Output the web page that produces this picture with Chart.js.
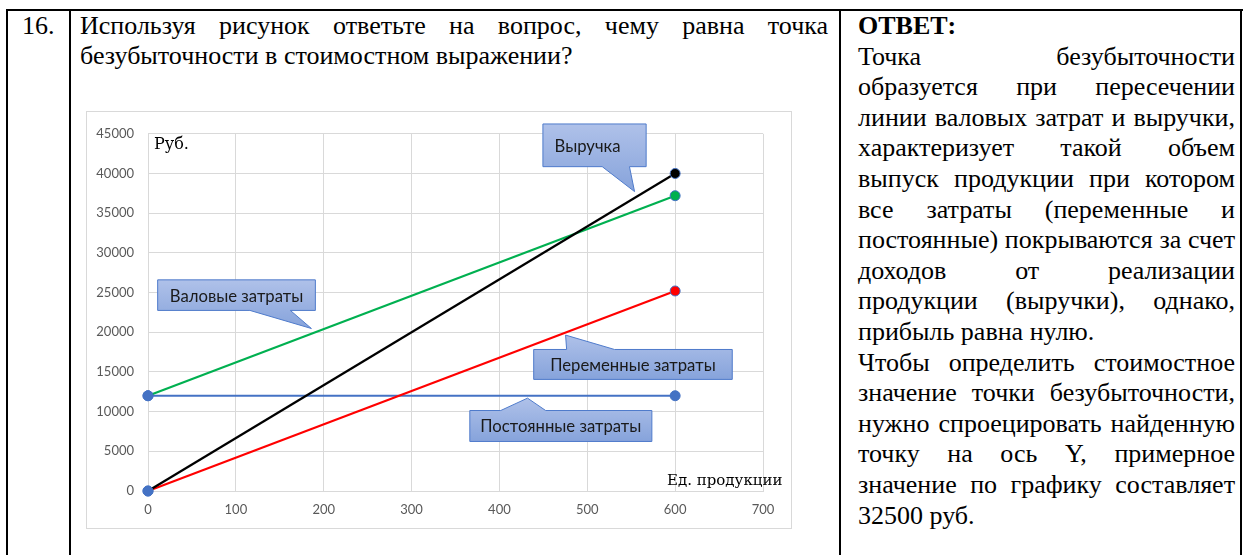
<!DOCTYPE html>
<html lang="ru">
<head>
<meta charset="utf-8">
<script src="https://cdn.jsdelivr.net/npm/chart.js@4.4.0/dist/chart.umd.min.js"></script>
<style>
  html, body { margin: 0; padding: 0; background: #fff; }
  body { width: 1243px; height: 555px; position: relative; overflow: hidden; }
  .ln { position: absolute; background: #000; }
  .serif { font-family: "Liberation Serif", "Times New Roman", serif; color: #000; font-size: 26px; }
  #num { position: absolute; left: 22px; top: 11px; line-height: 30px; }
  #q { position: absolute; left: 80px; top: 11px; width: 748px; line-height: 30px; }
  #ans { position: absolute; left: 858px; top: 11px; width: 377px; line-height: 30.6px; }
  .j { white-space: nowrap; text-align: justify; text-align-last: justify; }
  .e { white-space: nowrap; text-align: left; }
  #frame { position: absolute; left: 86px; top: 111px; width: 704px; height: 416px; border: 1px solid #d9d9d9; }
  #c { position: absolute; left: 0; top: 0; }
</style>
</head>
<body>
<div class="ln" style="left:6px; top:9px; width:1237px; height:2px;"></div>
<div class="ln" style="left:6px; top:9px; width:2px; height:546px;"></div>
<div class="ln" style="left:69px; top:9px; width:2px; height:546px;"></div>
<div class="ln" style="left:839px; top:9px; width:2px; height:546px;"></div>
<div class="ln" style="left:1240px; top:9px; width:2px; height:546px;"></div>

<div id="num" class="serif">16.</div>
<div id="q" class="serif">
  <div class="j">Используя рисунок ответьте на вопрос, чему равна точка</div>
  <div class="e">безубыточности в стоимостном выражении?</div>
</div>
<div id="ans" class="serif">
  <div class="e"><b>ОТВЕТ:</b></div>
  <div class="j">Точка безубыточности</div>
  <div class="j">образуется при пересечении</div>
  <div class="j">линии валовых затрат и выручки,</div>
  <div class="j">характеризует такой объем</div>
  <div class="j">выпуск продукции при котором</div>
  <div class="j">все затраты (переменные и</div>
  <div class="j">постоянные) покрываются за счет</div>
  <div class="j">доходов от реализации</div>
  <div class="j">продукции (выручки), однако,</div>
  <div class="e">прибыль равна нулю.</div>
  <div class="j">Чтобы определить стоимостное</div>
  <div class="j">значение точки безубыточности,</div>
  <div class="j">нужно спроецировать найденную</div>
  <div class="j">точку на ось Y, примерное</div>
  <div class="j">значение по графику составляет</div>
  <div class="e">32500 руб.</div>
</div>

<div id="frame"><canvas id="c" width="704" height="416"></canvas></div>

<script>
// ---- data ----
const units = [0, 600];                 // Ед. продукции
const revenue = [0, 40000];             // Выручка
const grossCosts = [12000, 37200];      // Валовые затраты
const variableCosts = [0, 25200];       // Переменные затраты
const fixedCosts = [12000, 12000];      // Постоянные затраты
const xTicks = [0, 100, 200, 300, 400, 500, 600, 700];
const yTicks = [0, 5000, 10000, 15000, 20000, 25000, 30000, 35000, 40000, 45000];

// callout labels, anchored in data coordinates
const callouts = [
  { text: 'Валовые затраты', box: [11, 26600, 190.5, 22750], side: 'bottom', base: [116, 162], tip: [186, 20470] },
  { text: 'Выручка', box: [449.5, 46240, 567, 40860], side: 'bottom', base: [517, 548], tip: [553.8, 37720], dx: -7 },
  { text: 'Переменные затраты', box: [439, 17830, 665, 14060], side: 'top', base: [476.5, 531], tip: [475.3, 19640] },
  { text: 'Постоянные затраты', box: [366.3, 10140, 573.5, 6240], side: 'top', base: [401.5, 452.6], tip: [432, 11700] }
];

// keep justified single lines inside the column
document.querySelectorAll('.j, .e').forEach(el => {
  const w = el.parentElement.clientWidth;
  const s = document.createElement('span');
  s.innerHTML = el.innerHTML;
  s.style.whiteSpace = 'nowrap';
  el.innerHTML = '';
  el.appendChild(s);
  const nat = s.getBoundingClientRect().width;
  el.innerHTML = s.innerHTML;
  if (nat > w) {
    const n = el.textContent.length;
    el.style.letterSpacing = ((w - nat) / n) + 'px';
  }
});

const BLUE = '#4472C4';
function pts(ys) { return units.map((x, i) => ({ x: x, y: ys[i] })); }
function ds(label, ys, color, order) {
  return {
    label: label, data: pts(ys), borderColor: color, borderWidth: 2.2,
    pointRadius: 5, pointBackgroundColor: [BLUE, color], pointBorderColor: BLUE, pointBorderWidth: 1,
    tension: 0, order: order, fill: false, clip: false
  };
}

const calloutPlugin = {
  id: 'callouts',
  afterDatasetsDraw(chart) {
    const ctx = chart.ctx, xs = chart.scales.x, ys = chart.scales.y;
    const X = v => xs.getPixelForValue(v), Y = v => ys.getPixelForValue(v);
    callouts.forEach(c => {
      const l = X(c.box[0]), t = Y(c.box[1]), r = X(c.box[2]), b = Y(c.box[3]);
      const b1 = X(c.base[0]), b2 = X(c.base[1]), tx = X(c.tip[0]), ty = Y(c.tip[1]);
      ctx.save();
      ctx.beginPath();
      if (c.side === 'bottom') {
        ctx.moveTo(l, t); ctx.lineTo(r, t); ctx.lineTo(r, b); ctx.lineTo(b2, b);
        ctx.lineTo(tx, ty); ctx.lineTo(b1, b); ctx.lineTo(l, b); ctx.closePath();
      } else {
        ctx.moveTo(l, t); ctx.lineTo(b1, t); ctx.lineTo(tx, ty); ctx.lineTo(b2, t);
        ctx.lineTo(r, t); ctx.lineTo(r, b); ctx.lineTo(l, b); ctx.closePath();
      }
      const g = ctx.createLinearGradient(0, Math.min(t, ty), 0, Math.max(b, ty));
      g.addColorStop(0, '#afc1e9');
      g.addColorStop(1, '#86a3db');
      ctx.fillStyle = g;
      ctx.fill();
      ctx.strokeStyle = '#4f7bcb';
      ctx.lineWidth = 1;
      ctx.stroke();
      ctx.fillStyle = '#1a1a1a';
      ctx.font = '16.7px Lato, "Open Sans", sans-serif';
      ctx.textAlign = 'center';
      ctx.textBaseline = 'middle';
      ctx.fillText(c.text, (l + r) / 2 + (c.dx || 0), (t + b) / 2 + 1);
      ctx.restore();
    });
    // axis captions
    ctx.save();
    ctx.fillStyle = '#000';
    ctx.textAlign = 'left';
    ctx.textBaseline = 'alphabetic';
    ctx.font = '16px "DejaVu Serif", serif';
    ctx.fillText('Руб.', chart.chartArea.left + 6, chart.chartArea.top + 15);
    ctx.font = '15px "DejaVu Serif", serif';
    ctx.fillText('Ед. продукции', chart.chartArea.left + 519, chart.chartArea.bottom - 6);
    ctx.restore();
  }
};

new Chart(document.getElementById('c'), {
  type: 'line',
  data: {
    datasets: [
      ds('Выручка', revenue, '#000000', 1),
      ds('Валовые затраты', grossCosts, '#00B050', 2),
      ds('Переменные затраты', variableCosts, '#FF0000', 3),
      ds('Постоянные затраты', fixedCosts, BLUE, 4)
    ]
  },
  options: {
    responsive: false,
    animation: false,
    devicePixelRatio: 1,
    layout: { padding: { left: 0, right: 28, top: 16, bottom: 0 } },
    plugins: { legend: { display: false }, tooltip: { enabled: false } },
    scales: {
      x: {
        type: 'linear', min: 0, max: 700,
        afterBuildTicks: s => { s.ticks = xTicks.map(v => ({ value: v })); },
        afterFit: s => { s.height = 37; },
        grid: { color: '#d9d9d9', drawTicks: false, lineWidth: 1 },
        border: { color: '#d9d9d9' },
        ticks: { color: '#595959', font: { family: 'Lato, "Open Sans", sans-serif', size: 13 }, padding: 11 }
      },
      y: {
        type: 'linear', min: 0, max: 45000,
        afterBuildTicks: s => { s.ticks = yTicks.map(v => ({ value: v })); },
        afterFit: s => { s.width = 61; },
        grid: { color: '#d9d9d9', drawTicks: false, lineWidth: 1 },
        border: { color: '#d9d9d9' },
        ticks: { color: '#595959', font: { family: 'Lato, "Open Sans", sans-serif', size: 13 }, padding: 14,
                 callback: v => String(v) }
      }
    }
  },
  plugins: [calloutPlugin]
});
</script>
</body>
</html>
